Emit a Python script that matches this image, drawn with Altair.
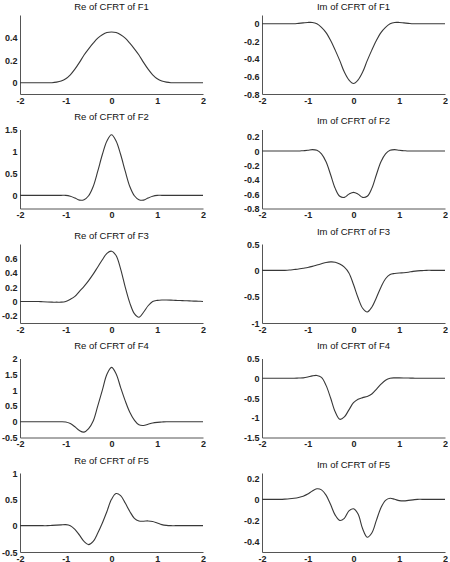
import altair as alt
import pandas as pd

x_vals = [-2.0, -1.9, -1.8, -1.7, -1.6, -1.5, -1.4, -1.3, -1.2, -1.1,
          -1.0, -0.9, -0.8, -0.7, -0.6, -0.5, -0.4, -0.3, -0.2, -0.1,
          0.0, 0.1, 0.2, 0.3, 0.4, 0.5, 0.6, 0.7, 0.8, 0.9,
          1.0, 1.1, 1.2, 1.3, 1.4, 1.5, 1.6, 1.7, 1.8, 1.9, 2.0]

re_f1 = [0, 0, 0, 0, 0, 0, 0, 0, 0.005, 0.015,
         0.035, 0.07, 0.12, 0.18, 0.245, 0.30, 0.35, 0.395, 0.425, 0.445,
         0.45, 0.445, 0.425, 0.395, 0.35, 0.30, 0.245, 0.18, 0.12, 0.07,
         0.035, 0.015, 0.005, 0, 0, 0, 0, 0, 0, 0, 0]
im_f1 = [0, 0, 0, 0, 0, 0, 0, 0, 0.005, 0.01,
         0.015, 0.015, 0.0, -0.04, -0.10, -0.19, -0.30, -0.42, -0.55, -0.64,
         -0.68, -0.64, -0.55, -0.42, -0.30, -0.19, -0.10, -0.04, 0.0, 0.015,
         0.015, 0.01, 0.005, 0, 0, 0, 0, 0, 0, 0, 0]
re_f2 = [0, 0, 0, 0, 0, 0, 0, 0, 0, 0,
         0.0, -0.02, -0.06, -0.11, -0.10, -0.01, 0.20, 0.55, 0.93, 1.24,
         1.38, 1.24, 0.93, 0.55, 0.20, -0.01, -0.10, -0.11, -0.06, -0.02,
         0.0, 0, 0, 0, 0, 0, 0, 0, 0, 0, 0]
im_f2 = [0, 0, 0, 0, 0, 0, 0, 0, 0, 0.005,
         0.01, 0.02, 0.01, -0.04, -0.15, -0.33, -0.52, -0.63, -0.645, -0.60,
         -0.575, -0.60, -0.645, -0.63, -0.52, -0.33, -0.15, -0.04, 0.01, 0.02,
         0.01, 0.005, 0, 0, 0, 0, 0, 0, 0, 0, 0]
re_f3 = [0, 0, 0, 0, 0, -0.005, -0.008, -0.01, -0.01, -0.01,
         0.0, 0.03, 0.07, 0.14, 0.21, 0.29, 0.38, 0.48, 0.58, 0.67,
         0.70, 0.64, 0.45, 0.20, -0.02, -0.17, -0.22, -0.15, -0.06, 0.0,
         0.015, 0.02, 0.02, 0.018, 0.015, 0.013, 0.01, 0.008, 0.005, 0.003, 0.0]
im_f3 = [0, 0, 0, 0, 0, 0, 0.005, 0.015, 0.025, 0.04,
         0.055, 0.075, 0.10, 0.125, 0.15, 0.16, 0.155, 0.12, 0.06, -0.05,
         -0.27, -0.52, -0.72, -0.79, -0.70, -0.52, -0.32, -0.16, -0.08, -0.06,
         -0.05, -0.045, -0.035, -0.02, -0.01, -0.005, 0, 0, 0, 0, 0]
re_f4 = [0, 0, 0, 0, 0, 0, 0, 0, 0, 0,
         -0.01, -0.06, -0.16, -0.28, -0.33, -0.22, 0.02, 0.50, 1.00, 1.50,
         1.72, 1.52, 1.08, 0.66, 0.30, 0.05, -0.10, -0.12, -0.08, -0.04,
         -0.02, -0.01, 0, 0, 0, 0, 0, 0, 0, 0, 0]
im_f4 = [0, 0, 0, 0, 0, 0, 0, 0, 0.005, 0.01,
         0.03, 0.06, 0.07, 0.02, -0.18, -0.50, -0.85, -1.04, -0.98, -0.80,
         -0.62, -0.53, -0.49, -0.46, -0.40, -0.28, -0.15, -0.05, 0.0, 0.01,
         0.01, 0.008, 0.005, 0.003, 0, 0, 0, 0, 0, 0, 0]
re_f5 = [0, 0, 0, 0, 0, 0, 0, 0.005, 0.01, 0.015,
         0.02, 0.0, -0.07, -0.18, -0.30, -0.36, -0.30, -0.14, 0.05, 0.27,
         0.50, 0.61, 0.57, 0.43, 0.27, 0.14, 0.09, 0.085, 0.09, 0.08,
         0.05, 0.02, 0.005, 0, 0, 0, 0, 0, 0, 0, 0]
im_f5 = [0, 0, 0, 0, 0, 0.002, 0.005, 0.01, 0.018, 0.03,
         0.05, 0.08, 0.10, 0.09, 0.04, -0.05, -0.15, -0.20, -0.18, -0.11,
         -0.09, -0.14, -0.28, -0.36, -0.32, -0.20, -0.08, -0.01, 0.01, 0.0,
         -0.012, -0.015, -0.01, -0.005, 0, 0, 0, 0, 0, 0, 0]

panels = [
    ("Re of CFRT of F1", re_f1, [-0.1, 0.6], [0, 0.2, 0.4]),
    ("Im of CFRT of F1", im_f1, [-0.8, 0.1], [0, -0.2, -0.4, -0.6, -0.8]),
    ("Re of CFRT of F2", re_f2, [-0.3, 1.5], [0, 0.5, 1, 1.5]),
    ("Im of CFRT of F2", im_f2, [-0.8, 0.3], [0.2, 0, -0.2, -0.4, -0.6, -0.8]),
    ("Re of CFRT of F3", re_f3, [-0.3, 0.8], [0.6, 0.4, 0.2, 0, -0.2]),
    ("Im of CFRT of F3", im_f3, [-1, 0.5], [0.5, 0, -0.5, -1]),
    ("Re of CFRT of F4", re_f4, [-0.5, 2], [2, 1.5, 1, 0.5, 0, -0.5]),
    ("Im of CFRT of F4", im_f4, [-1.5, 0.5], [0.5, 0, -0.5, -1, -1.5]),
    ("Re of CFRT of F5", re_f5, [-0.5, 1], [1, 0.5, 0, -0.5]),
    ("Im of CFRT of F5", im_f5, [-0.5, 0.25], [0.2, 0, -0.2, -0.4]),
]

label_expr = "replace(datum.label, '\u2212', '-')"

charts = []
for title, vals, dom, ticks in panels:
    df = pd.DataFrame({"x": x_vals, "y": vals})
    c = alt.Chart(df).mark_line(
        color="#383838", strokeWidth=1.1, interpolate="catmull-rom"
    ).encode(
        x=alt.X("x:Q", scale=alt.Scale(domain=[-2, 2], nice=False, zero=False),
                axis=alt.Axis(values=[-2, -1, 0, 1, 2], title=None, format="~g",
                              labelExpr=label_expr)),
        y=alt.Y("y:Q", scale=alt.Scale(domain=dom, nice=False, zero=False),
                axis=alt.Axis(values=ticks, title=None, format="~g",
                              labelExpr=label_expr)),
    ).properties(width=183, height=79, title=title)
    charts.append(c)

chart = alt.concat(*charts, columns=2, spacing={"row": 6.5, "column": 37}).properties(
    padding={"left": 1, "top": 1, "right": 0, "bottom": 0}
).configure_view(stroke=None).configure_axis(
    grid=False, ticks=False, domainColor="#555555", domainWidth=1,
    labelFont="Liberation Sans", labelFontSize=9, labelFontWeight="bold",
    labelColor="#222222", labelPadding=3, labelFlush=False,
).configure_axisX(labelPadding=2).configure_title(
    font="Liberation Sans", fontSize=9.5, fontWeight="normal", color="#111111",
    offset=4, anchor="middle",
)

chart.save("out.html", embed_options={"renderer": "svg", "actions": False})
